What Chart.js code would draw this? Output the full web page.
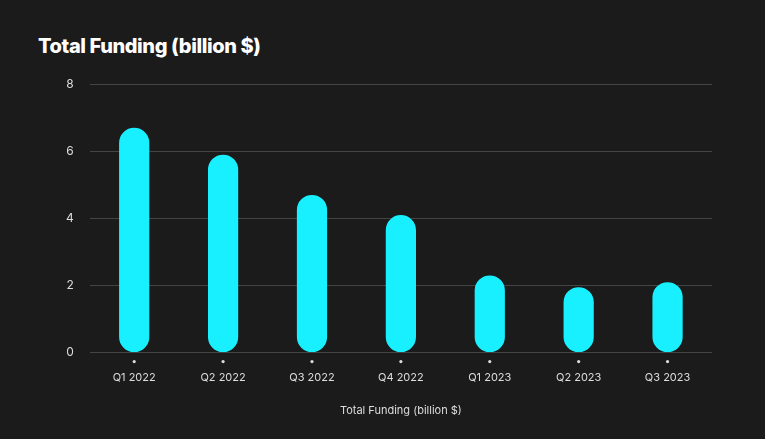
<!DOCTYPE html>
<html>
<head>
<meta charset="utf-8">
<script src="https://cdn.jsdelivr.net/npm/chart.js@4"></script>
<style>
  html, body { margin: 0; padding: 0; background: #1b1b1b; }
  #wrap { position: relative; width: 765px; height: 439px; }
  h1 { position: absolute; left: 38px; top: 34px; margin: 0; color: #fff;
       font: 800 20px "Inter", "Open Sans", sans-serif; letter-spacing: -0.4px; }
  #box { position: absolute; left: 50px; top: 61px; width: 662px; height: 360px; }
</style>
</head>
<body>
<div id="wrap">
  <h1>Total Funding (billion $)</h1>
  <div id="box"><canvas id="c"></canvas></div>
</div>
<script>
const categories = ['Q1 2022', 'Q2 2022', 'Q3 2022', 'Q4 2022', 'Q1 2023', 'Q2 2023', 'Q3 2023'];
const funding = [6.7, 5.9, 4.7, 4.1, 2.3, 1.95, 2.1];
const yTicks = [0, 2, 4, 6, 8];

// small dots under each category
const tickDots = {
  id: 'tickDots',
  afterDatasetsDraw(chart) {
    const { ctx, scales: { x, y } } = chart;
    ctx.save();
    ctx.fillStyle = '#ddd';
    categories.forEach((c, i) => {
      ctx.beginPath();
      ctx.arc(x.getPixelForValue(i), y.getPixelForValue(0) + 9, 1.6, 0, Math.PI * 2);
      ctx.fill();
    });
    ctx.restore();
  }
};

new Chart(document.getElementById('c'), {
  type: 'bar',
  data: {
    labels: categories,
    datasets: [{
      data: funding,
      backgroundColor: '#19f0ff',
      borderRadius: 16,
      borderSkipped: false,
      barPercentage: 0.34,
      categoryPercentage: 1
    }]
  },
  options: {
    responsive: true,
    maintainAspectRatio: false,
    animation: false,
    plugins: { legend: { display: false }, tooltip: { enabled: false } },
    scales: {
      y: {
        min: 0, max: 8,
        afterBuildTicks: s => { s.ticks = yTicks.map(v => ({ value: v })); },
        ticks: { color: '#ddd', font: { size: 12, family: 'Inter' }, padding: 16 },
        grid: { color: '#444', drawTicks: false },
        border: { display: false }
      },
      x: {
        ticks: { color: '#ddd', font: { size: 11, family: 'Inter' }, padding: 18 },
        grid: { display: false, drawTicks: false },
        border: { display: false },
        title: { display: true, text: 'Total Funding (billion $)', color: '#ddd',
                 font: { size: 11, family: 'Inter' }, padding: { top: 2 } }
      }
    }
  },
  plugins: [tickDots]
});
</script>
</body>
</html>
